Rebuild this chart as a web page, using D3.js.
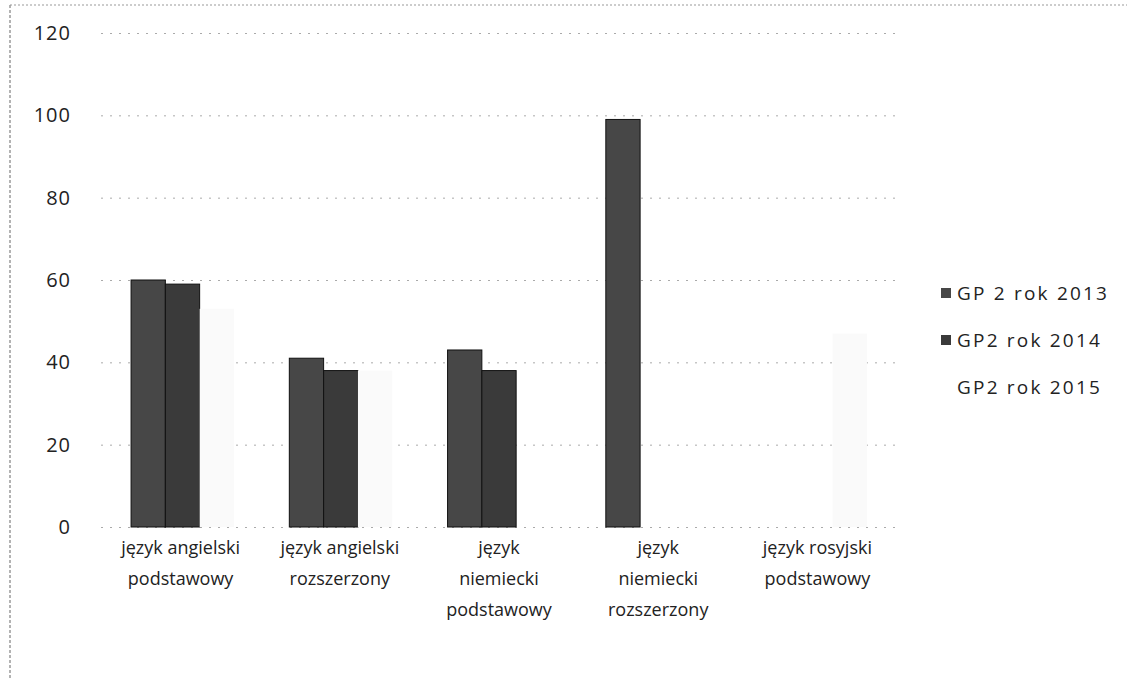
<!DOCTYPE html>
<html>
<head>
<meta charset="utf-8">
<script src="https://cdnjs.cloudflare.com/ajax/libs/d3/7.8.5/d3.min.js"></script>
<style>
  html, body { margin: 0; padding: 0; background: #fff; }
  #chart { width: 1127px; height: 678px; }
  text { fill: #222; }
</style>
</head>
<body>
<div id="chart"></div>
<script>
//Datos
const categorias = [
    ['język angielski', 'podstawowy'],
    ['język angielski', 'rozszerzony'],
    ['język', 'niemiecki', 'podstawowy'],
    ['język', 'niemiecki', 'rozszerzony'],
    ['język rosyjski', 'podstawowy']
];
const series = ['GP 2 rok 2013', 'GP2 rok 2014', 'GP2 rok 2015'];
const valores2013 = [60, 41, 43, 99, 0];
const valores2014 = [59, 38, 38, 0, 0];
const valores2015 = [53, 38, 0, 0, 47];
const ticksY = [0, 20, 40, 60, 80, 100, 120];

const COLORES = ['#474747', '#3a3a3a', '#fafafa'];

let margin = {top: 33, right: 230, bottom: 151, left: 101},
    width = 1127 - margin.left - margin.right,
    height = 678 - margin.top - margin.bottom;

let root = d3.select('#chart')
    .append('svg')
    .attr('width', 1127)
    .attr('height', 678);

//Marco escaneado
root.append('line')
    .attr('x1', 10).attr('x2', 10).attr('y1', 5).attr('y2', 678)
    .attr('stroke', '#666').attr('stroke-dasharray', '3,2');
root.append('line')
    .attr('x1', 10).attr('x2', 1127).attr('y1', 5).attr('y2', 5)
    .attr('stroke', '#999').attr('stroke-dasharray', '2,2');

let svg = root.append('g')
    .attr('transform', 'translate(' + margin.left + ',' + margin.top + ')');

let data = categorias.map(function(c, i) {
    return { cat: i, values: [valores2013[i], valores2014[i], valores2015[i]] };
});

//Eje Y
let y = d3.scaleLinear()
    .domain([0, 120])
    .range([height, 0]);

let yAxis = function(g) {
    g.call(d3.axisLeft(y).tickValues(ticksY).tickSize(-width).tickPadding(30));
    g.select('.domain').remove();
    g.selectAll('.tick line')
        .attr('stroke', '#aaa')
        .attr('stroke-dasharray', '2,7');
    g.selectAll('.tick text')
        .attr('font-family', '"Open Sans", sans-serif')
        .attr('font-size', '20px')
        .attr('letter-spacing', '1px')
        .attr('fill', '#222');
};

svg.append('g').call(yAxis);

//Eje X
let x0 = d3.scaleBand()
    .domain(d3.range(categorias.length))
    .range([0, width])
    .paddingInner(0.35)
    .paddingOuter(0.19);

let x1 = d3.scaleBand()
    .domain(d3.range(series.length))
    .range([0, x0.bandwidth()]);

let xc = d3.scaleBand()
    .domain(d3.range(categorias.length))
    .range([0, width]);

let xAxis = svg.append('g')
    .attr('transform', 'translate(0,' + height + ')');

xAxis.selectAll('text')
    .data(categorias)
    .enter()
    .append('text')
    .attr('x', function(d, i) { return xc(i) + xc.bandwidth() / 2; })
    .attr('y', 27)
    .attr('text-anchor', 'middle')
    .attr('font-family', '"Open Sans", sans-serif')
    .attr('font-size', '18px')
    .each(function(d) {
        let t = d3.select(this);
        d.forEach(function(line, k) {
            t.append('tspan')
                .attr('x', t.attr('x'))
                .attr('dy', k === 0 ? 0 : 31)
                .text(line);
        });
    });

//Barras
svg.append('g')
    .selectAll('g')
    .data(data)
    .enter()
    .append('g')
    .attr('transform', function(d) { return 'translate(' + x0(d.cat) + ',0)'; })
    .selectAll('rect')
    .data(function(d) { return d.values.map(function(v, s) { return {s: s, v: v}; }); })
    .enter()
    .append('rect')
    .attr('x', function(d) { return x1(d.s); })
    .attr('y', function(d) { return y(d.v); })
    .attr('width', x1.bandwidth())
    .attr('height', function(d) { return height - y(d.v); })
    .attr('fill', function(d) { return COLORES[d.s]; })
    .attr('stroke', function(d) { return d.s < 2 ? '#111' : 'none'; })
    .attr('stroke-width', 1);

//Leyenda
let legend = root.append('g')
    .attr('transform', 'translate(941,293)');

let items = legend.selectAll('g')
    .data(series)
    .enter()
    .append('g')
    .attr('transform', function(d, i) { return 'translate(0,' + (i * 47) + ')'; });

items.append('rect')
    .attr('x', 0)
    .attr('y', -5)
    .attr('width', 10)
    .attr('height', 10)
    .attr('fill', function(d, i) { return i < 2 ? COLORES[i] : 'none'; });

items.append('text')
    .attr('x', 16)
    .attr('dy', '0.35em')
    .attr('font-family', '"Open Sans", sans-serif')
    .attr('font-size', '19px')
    .attr('letter-spacing', '2.2px')
    .text(function(d) { return d; });
</script>
</body>
</html>
